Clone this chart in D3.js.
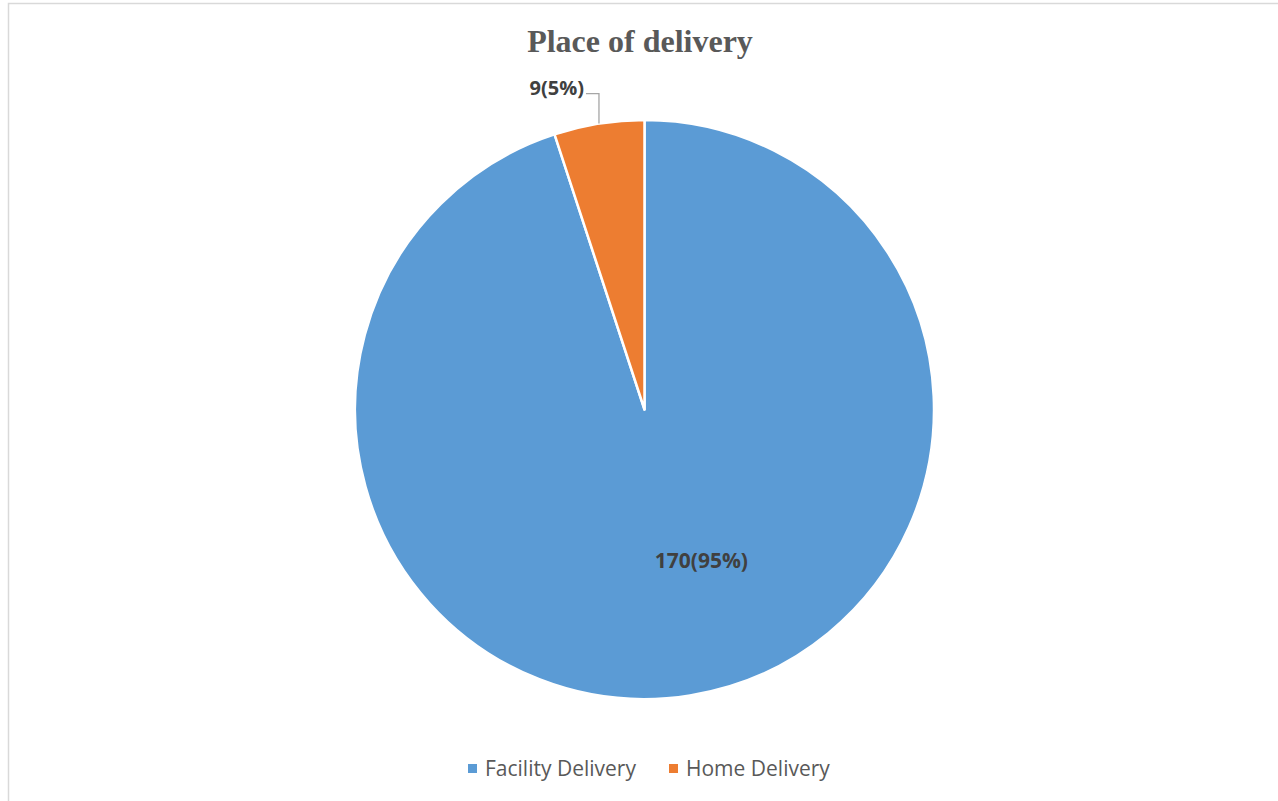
<!DOCTYPE html>
<html><head><meta charset="utf-8">
<script src="https://cdn.jsdelivr.net/npm/d3@7"></script>
<style>html,body{margin:0;padding:0;background:#fff;}svg{display:block;}</style>
</head><body>
<svg id="c" width="1278" height="801"></svg>
<script>
const categories = ["Facility Delivery", "Home Delivery"];
const values = [170, 9];
const colors = ["#5B9BD5", "#ED7D31"];
const title = "Place of delivery";

const svg = d3.select("#c");
const W = 1278, H = 801;
svg.append("rect").attr("x", 8.5).attr("y", 3.5).attr("width", W + 20).attr("height", H + 20)
  .attr("fill", "#fff").attr("stroke", "#d9d9d9").attr("stroke-width", 1.5);

svg.append("text").attr("x", 640).attr("y", 52).attr("text-anchor", "middle")
  .attr("font-family", "Liberation Serif, serif").attr("font-weight", "bold")
  .attr("font-size", 32).attr("fill", "#595959").text(title);

const cx = 644.5, cy = 409.5, R = 289.5;
const total = d3.sum(values);
const data = categories.map((c, i) => ({ cat: c, val: values[i], color: colors[i] }));
const pie = d3.pie().sort(null).value(d => d.val);
const arcs = pie(data);
const arc = d3.arc().innerRadius(0).outerRadius(R);
const g = svg.append("g").attr("transform", `translate(${cx},${cy})`);
g.selectAll("path").data(arcs).join("path").attr("d", arc)
  .attr("fill", d => d.data.color).attr("stroke", "#fff").attr("stroke-width", 2.5)
  .attr("stroke-linejoin", "round");

const lab = d => `${d.data.val}(${Math.round(d.data.val / total * 100)}%)`;
const font = "Open Sans, sans-serif";
// inside label for big slice
{
  const d = arcs[0];
  const a = (d.startAngle + d.endAngle) / 2 - 0.203;
  const r = R * 0.556;
  g.append("text").attr("x", r * Math.sin(a)).attr("y", -r * Math.cos(a) + 8)
    .attr("text-anchor", "middle").attr("font-family", font).attr("font-weight", "bold")
    .attr("font-size", 21).attr("fill", "#404040").text(lab(d));
}
// outside label with leader for small slice
{
  const d = arcs[1];
  const a = (d.startAngle + d.endAngle) / 2;
  const x0 = R * Math.sin(a), y0 = -R * Math.cos(a);
  const yTop = y0 - 30, xEnd = x0 - 13;
  g.append("path").attr("d", `M${x0},${y0}V${yTop}H${xEnd}`)
    .attr("fill", "none").attr("stroke", "#a6a6a6").attr("stroke-width", 1.3);
  g.append("text").attr("x", xEnd - 2).attr("y", yTop + 1).attr("text-anchor", "end")
    .attr("font-family", font).attr("font-weight", "bold")
    .attr("font-size", 20).attr("fill", "#404040").text(lab(d));
}

// legend
const legX = [468, 669];
const lg = svg.append("g");
data.forEach((d, i) => {
  lg.append("rect").attr("x", legX[i]).attr("y", 764).attr("width", 9).attr("height", 9).attr("fill", d.color);
  lg.append("text").attr("x", legX[i] + 17).attr("y", 776).attr("font-family", font)
    .attr("font-size", 21).attr("fill", "#595959").text(d.cat);
});
</script>
</body></html>
